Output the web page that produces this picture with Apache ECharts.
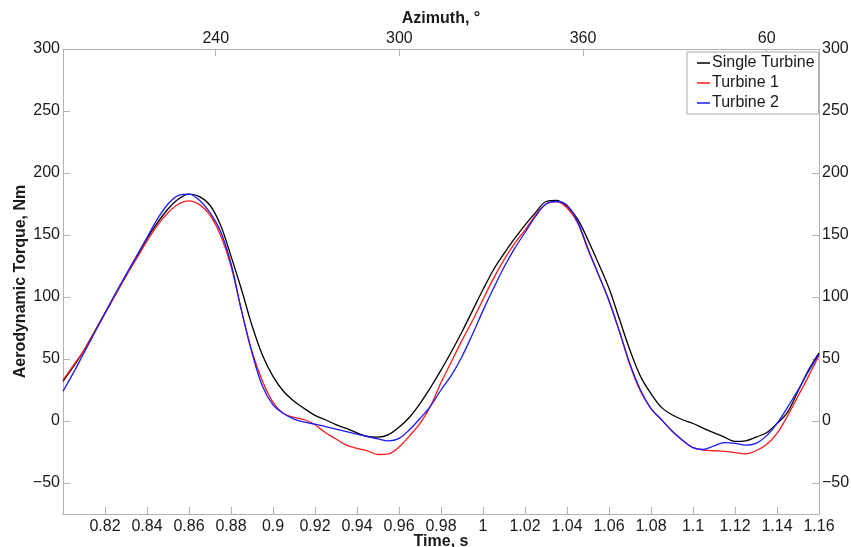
<!DOCTYPE html>
<html><head><meta charset="utf-8">
<script src="https://cdn.jsdelivr.net/npm/echarts@6/dist/echarts.min.js"></script>
<style>html,body{margin:0;padding:0;background:#fff}#c{width:851px;height:547px}</style>
</head><body><div id="c"></div>
<script>
// Time, s
const time = [0.800,0.805,0.810,0.815,0.820,0.825,0.830,0.835,0.840,0.845,0.850,0.855,0.860,0.865,0.870,0.875,0.880,0.885,0.890,0.895,
  0.900,0.905,0.910,0.915,0.920,0.925,0.930,0.935,0.940,0.945,0.950,0.955,0.960,0.965,0.970,0.975,0.980,0.985,0.990,0.995,
  1.000,1.005,1.010,1.015,1.020,1.025,1.030,1.035,1.040,1.045,1.050,1.055,1.060,1.065,1.070,1.075,1.080,1.085,1.090,1.095,
  1.100,1.105,1.110,1.115,1.120,1.125,1.130,1.135,1.140,1.145,1.150,1.155,1.160];
// Aerodynamic torque, Nm
const singleTurbine = [32,44,57,72,87,102,117,132,147,160,171,179,183,181,174,158,133,106,77,53,
  36,24,16,10,4.5,1,-3,-6,-9.5,-12.5,-13,-11,-5,3,14,27,41,56,72,89,
  106,122,135,147,158,168,177,178,173,163,146,127,107,82,57,36,22,11,5,1,
  -2,-6,-9.5,-13,-16.5,-16,-13,-9.5,-2,7,24,41,55];
const turbine1 = [33,45,57,72,87,102,117,131,145,158,168,175,177.5,174.5,166,150,125,89,56,32,
  15,6,3,1,-3,-9.5,-14.5,-19.5,-22,-24,-27,-26.5,-21,-12,-2,12,31,48,65,81,
  98,115,130,143,154,166,175,177,172,160,138,118,97,72,45,24,10,1,-8,-15.5,
  -21.5,-23.5,-24,-24.5,-25.5,-26.5,-24,-19,-10,4,20,36,53];
const turbine2 = [24,39,55,71,87,103,118,133,148,163,175,182,183,178,168,153,127,89,55,28,
  13,6,1.5,-1,-2.5,-4.5,-6.5,-8.5,-10.5,-12.5,-14.5,-16,-14,-7,2,12,25,37,52,70,
  89,107,124,139,152,165,175,177,174,161,139,118,97,72,46,25,10,1,-8,-15.5,
  -21.5,-23,-20,-17.5,-18,-19.5,-18,-12,-2,11,25,40,54];
// Axis ticks
const yTicks = [-50,0,50,100,150,200,250,300];
const azimuthTicks = [240,300,360,420];
const azimuthRange = [190.1, 437.1];
const seriesNames = ['Single Turbine','Turbine 1','Turbine 2'];
const seriesColors = ['#000000','#ff1a1a','#1a1aff'];

const FONT = 'Liberation Sans, Arial, Helvetica, sans-serif';
const AX = '#b3b3b3';
const TXT = '#1a1a1a';
const pairs = arr => arr.map((v,i)=>[time[i], v]);

const chart = echarts.init(document.getElementById('c'), null, {renderer:'canvas'});
const axisCommon = {
  axisLine:{show:true, onZero:false, lineStyle:{color:AX, width:1}},
  axisTick:{show:true, inside:true, length:7, lineStyle:{color:AX, width:1}},
  splitLine:{show:false},
  nameMoveOverlap:false,
  axisLabel:{color:TXT, fontFamily:FONT, fontSize:16}
};
chart.setOption({
  animation:false,
  backgroundColor:'#ffffff',
  grid:{left:63, right:32, top:49, bottom:33, containLabel:false, outerBoundsMode:'none'},
  legend:{
    orient:'vertical', left:687, top:52, width:132,
    data:seriesNames.map(n=>({name:n, icon:'rect'})),
    itemWidth:13, itemHeight:1.5, itemGap:4,
    padding:[3,4,3,10],
    borderColor:'#aaaaaa', borderWidth:1, backgroundColor:'#ffffff',
    textStyle:{color:TXT, fontFamily:FONT, fontSize:16, padding:[0,0,0,-3]}
  },
  xAxis:[
    Object.assign({}, axisCommon, {
      type:'value', position:'bottom', min:0.8, max:1.16, interval:0.02,
      name:'Time, s', nameLocation:'middle', nameGap:20,
      nameTextStyle:{color:TXT, fontFamily:FONT, fontSize:16, fontWeight:'bold'},
      axisLabel:Object.assign({}, axisCommon.axisLabel, {margin:5, showMaxLabel:true, showMinLabel:true,
        formatter:v => Math.abs(v-0.8)<1e-9 ? '' : String(+v.toFixed(2))})
    }),
    Object.assign({}, axisCommon, {
      type:'value', position:'top', min:azimuthRange[0], max:azimuthRange[1],
      name:'Azimuth, °', nameLocation:'middle', nameGap:22,
      nameTextStyle:{color:TXT, fontFamily:FONT, fontSize:16, fontWeight:'bold'},
      axisTick:Object.assign({}, axisCommon.axisTick, {customValues:azimuthTicks}),
      axisLabel:Object.assign({}, axisCommon.axisLabel, {margin:2, customValues:azimuthTicks,
        formatter:v => String(v>360 ? v-360 : v)})
    })
  ],
  yAxis:[
    Object.assign({}, axisCommon, {
      type:'value', position:'left', min:-75, max:300,
      name:'Aerodynamic Torque, Nm', nameLocation:'middle', nameGap:34,
      nameTextStyle:{color:TXT, fontFamily:FONT, fontSize:16, fontWeight:'bold'},
      axisTick:Object.assign({}, axisCommon.axisTick, {customValues:yTicks}),
      axisLabel:Object.assign({}, axisCommon.axisLabel, {margin:3, customValues:yTicks,
        formatter:v => v<0 ? '\u2212'+Math.abs(v) : String(v)})
    }),
    Object.assign({}, axisCommon, {
      type:'value', position:'right', min:-75, max:300,
      axisTick:Object.assign({}, axisCommon.axisTick, {customValues:yTicks}),
      axisLabel:Object.assign({}, axisCommon.axisLabel, {margin:3, customValues:yTicks,
        formatter:v => v<0 ? '\u2212'+Math.abs(v) : String(v)})
    })
  ],
  series:[singleTurbine, turbine1, turbine2].map((arr,i)=>({
    name:seriesNames[i], type:'line', xAxisIndex:0, yAxisIndex:0,
    data:pairs(arr), smooth:0.35, symbol:'none', showSymbol:false,
    lineStyle:{color:seriesColors[i], width:1.3}, itemStyle:{color:seriesColors[i]}
  }))
});
</script></body></html>
